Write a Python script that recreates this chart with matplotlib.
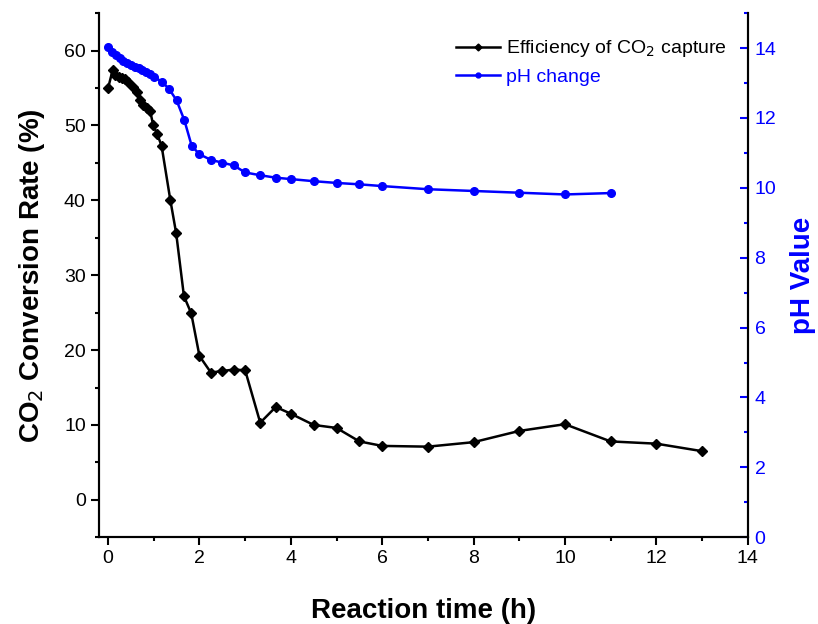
import numpy as np
import matplotlib
matplotlib.use('Agg')
import matplotlib.pyplot as plt
from matplotlib.ticker import MultipleLocator
from matplotlib.lines import Line2D

plt.rcParams['font.family'] = ['Liberation Sans', 'DejaVu Sans']

# CO2 capture efficiency (%)
timeEff = [0, 0.1, 0.15, 0.23, 0.3, 0.37, 0.44, 0.55, 0.63, 0.7, 0.77, 0.85,
           0.92, 0.99, 1.07, 1.17, 1.36, 1.49, 1.66, 1.82, 2.0, 2.25, 2.5,
           2.75, 3.0, 3.33, 3.67, 4.0, 4.5, 5.0, 5.5, 6, 7, 8, 9, 10, 11, 12, 13]
effValues = [55.0, 57.4, 56.7, 56.5, 56.4, 56.2, 55.8, 55.1, 54.4, 53.4, 52.7,
             52.3, 51.9, 50.0, 48.9, 47.3, 40.1, 35.6, 27.2, 24.9, 19.2, 17.0,
             17.2, 17.4, 17.3, 10.3, 12.4, 11.5, 10.0, 9.6, 7.8, 7.2, 7.1, 7.7,
             9.2, 10.1, 7.8, 7.5, 6.5]

# pH change
timePH = [0, 0.083, 0.167, 0.25, 0.333, 0.417, 0.5, 0.583, 0.667, 0.75, 0.833,
          0.917, 1.0, 1.17, 1.33, 1.5, 1.67, 1.83, 2.0, 2.25, 2.5, 2.75, 3.0,
          3.33, 3.67, 4.0, 4.5, 5.0, 5.5, 6, 7, 8, 9, 10, 11]
phValues = [14.02, 13.90, 13.80, 13.72, 13.64, 13.57, 13.51, 13.46, 13.42,
            13.37, 13.32, 13.26, 13.18, 13.04, 12.84, 12.5, 11.93, 11.2, 10.96,
            10.8, 10.72, 10.64, 10.44, 10.36, 10.29, 10.25, 10.19, 10.14, 10.1,
            10.05, 9.96, 9.91, 9.86, 9.81, 9.85]

fig = plt.figure(figsize=(8.18, 6.24), dpi=100)
ax = fig.add_axes([0.121, 0.139, 0.793, 0.840])
ax2 = ax.twinx()

ax.plot(timeEff, effValues, color='black', lw=1.8, marker='D', ms=5, zorder=3)
ax2.plot(timePH, phValues, color='#0000ff', lw=1.8, marker='o', ms=5.5, zorder=3)

ax.set_xlim(-0.2, 14)
ax.set_ylim(-5, 65)
ax2.set_ylim(0, 15)

ax.xaxis.set_major_locator(MultipleLocator(2))
ax.xaxis.set_minor_locator(MultipleLocator(1))
ax.yaxis.set_major_locator(MultipleLocator(10))
ax.yaxis.set_minor_locator(MultipleLocator(5))
ax2.yaxis.set_major_locator(MultipleLocator(2))
ax2.yaxis.set_minor_locator(MultipleLocator(1))

for sp in ax.spines.values():
    sp.set_linewidth(1.5)
for sp in ax2.spines.values():
    sp.set_linewidth(1.5)
ax.spines['top'].set_visible(False)
ax2.spines['top'].set_visible(False)

ax.tick_params(axis='both', which='major', direction='out', length=6, width=1.5,
               labelsize=14)
ax.tick_params(axis='both', which='minor', direction='out', length=3, width=1.5)
ax2.tick_params(axis='y', which='major', direction='in', length=6, width=1.5,
                colors='#0000ff', labelsize=14, pad=5)
ax2.tick_params(axis='y', which='minor', direction='in', length=3, width=1.5,
                colors='#0000ff')
ax2.spines['right'].set_color('black')

ax.set_xlabel('Reaction time (h)', fontsize=20, fontweight='bold', labelpad=22)
ax.set_ylabel('CO$_2$ Conversion Rate (%)', fontsize=20, fontweight='bold', labelpad=12)
ax2.set_ylabel('pH Value', fontsize=20, fontweight='bold', color='#0000ff', labelpad=10)

handles = [Line2D([], [], color='black', lw=1.8, marker='D', ms=3.5),
           Line2D([], [], color='#0000ff', lw=1.8, marker='o', ms=3.5)]
leg = ax.legend(handles, ['Efficiency of CO$_2$ capture', 'pH change'],
                loc='upper right', bbox_to_anchor=(0.995, 0.985), frameon=False,
                fontsize=14, handlelength=2.3, handletextpad=0.3, labelspacing=0.45)
leg.get_texts()[1].set_color('#0000ff')

fig.savefig('out.png', dpi=100)
